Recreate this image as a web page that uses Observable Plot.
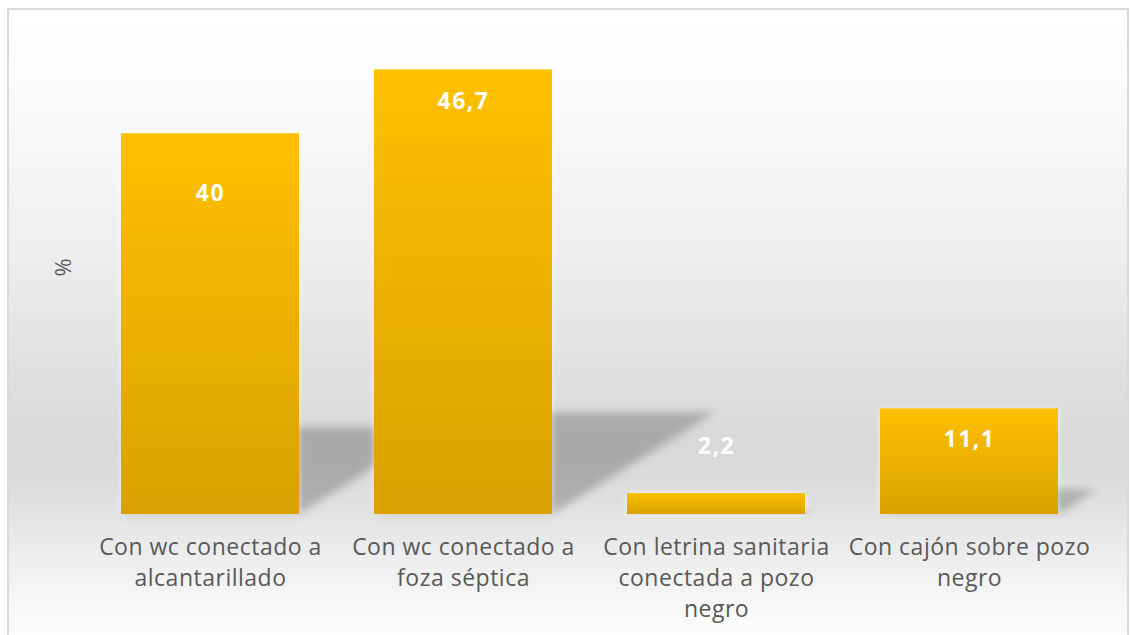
<!DOCTYPE html>
<html>
<head>
<meta charset="utf-8">
<script src="https://cdn.jsdelivr.net/npm/d3@7"></script>
<script src="https://cdn.jsdelivr.net/npm/@observablehq/plot@0.6"></script>
<style>
  html, body { margin: 0; padding: 0; background: #ffffff; }
  #wrap { position: relative; width: 1130px; height: 635px; overflow: hidden; background: #ffffff; }
  #frame {
    position: absolute; left: 7px; top: 8px; width: 1118px; height: 660px;
    border: 2px solid #d9d9d9; border-bottom: none;
    background: linear-gradient(to bottom, #ffffff 0%, #fbfbfb 12%, #efefef 35%, #e2e2e2 52%, #d8d8d8 66%, #dcdcdc 72%, #ececec 82%, #fafafa 92%, #ffffff 100%);
  }
  #chart { position: absolute; left: 0; top: 0; }
  .catlbl text { letter-spacing: 0.5px; }
  .vallbl text { letter-spacing: 1.5px; }
</style>
</head>
<body>
<svg width="0" height="0" style="position:absolute">
  <defs>
    <linearGradient id="barGrad" x1="0" y1="0" x2="0" y2="1">
      <stop offset="0%" stop-color="#ffc000"/>
      <stop offset="100%" stop-color="#d8a100"/>
    </linearGradient>
    <filter id="shadowBlur" x="-20%" y="-20%" width="140%" height="140%">
      <feGaussianBlur stdDeviation="4"/>
    </filter>
    <filter id="glow" x="-20%" y="-20%" width="140%" height="140%">
      <feGaussianBlur stdDeviation="3"/>
    </filter>
  </defs>
</svg>
<div id="wrap">
  <div id="frame"></div>
  <div id="chart"></div>
</div>
<script>
// ---- data ----
const categories = [
  "Con wc conectado a\nalcantarillado",
  "Con wc conectado a\nfoza séptica",
  "Con letrina sanitaria\nconectada a pozo\nnegro",
  "Con cajón sobre pozo\nnegro"
];
const values = [40, 46.7, 2.2, 11.1];
const valueLabels = ["40", "46,7", "2,2", "11,1"];
const yAxisLabel = "%";

const data = categories.map((c, i) => ({cat: c, value: values[i], label: valueLabels[i]}));

// label vertical offsets (px, relative to bar top) — styling
const labelDy = [60, 32, -47, 31];

// perspective shadow behind bars, derived from scales
function shadowMark(index, scales, vals, dimensions) {
  const ns = "http://www.w3.org/2000/svg";
  const g = document.createElementNS(ns, "g");
  const xs = scales.x, ys = scales.y;
  let bw = typeof xs.bandwidth === "function" ? xs.bandwidth() : xs.bandwidth;
  if (bw == null && scales.scales && scales.scales.x) bw = scales.scales.x.bandwidth;
  const base = ys(0);
  for (const d of data) {
    const x1 = xs(d.cat), x2 = x1 + bw;
    const top = ys(d.value);
    const h = base - top;
    const sh = 0.229 * h, off = 0.367 * h;
    const p = document.createElementNS(ns, "polygon");
    p.setAttribute("points", `${x1},${base} ${x2},${base} ${x2 + off},${base - sh} ${x1 + off},${base - sh}`);
    p.setAttribute("fill", "#000");
    p.setAttribute("fill-opacity", "0.22");
    p.setAttribute("filter", "url(#shadowBlur)");
    g.appendChild(p);
  }
  return g;
}

const chart = Plot.plot({
  width: 1130,
  height: 635,
  marginLeft: 82,
  marginRight: 33,
  marginTop: 38,
  marginBottom: 121,
  style: {background: "transparent", fontFamily: "'Open Sans', sans-serif", overflow: "visible"},
  x: {domain: categories, paddingInner: 0.295, paddingOuter: 0.1475, axis: null},
  y: {domain: [0, 50], axis: null},
  marks: [
    shadowMark,
    Plot.barY(data, {x: "cat", y: "value", fill: "#ffffff", fillOpacity: 0.6, className: "glowbar"}),
    Plot.barY(data, {x: "cat", y: "value", fill: "url(#barGrad)"}),
    ...data.map((d, i) => Plot.text([d], {
      x: "cat", y: "value", text: "label", dy: labelDy[i],
      fill: "#ffffff", fontSize: 23, fontWeight: "bold", className: "vallbl"
    })),
    Plot.text(data, {
      x: "cat", y: () => 0, text: "cat", lineAnchor: "top", dy: 18, lineHeight: 1.35,
      fill: "#595959", fontSize: 23, className: "catlbl"
    }),
    Plot.text([yAxisLabel], {frameAnchor: "left", dx: -19, rotate: -90, fill: "#595959", fontSize: 22, text: d => d})
  ]
});
document.getElementById("chart").appendChild(chart);
// soften the white halo bars
chart.querySelectorAll(".glowbar rect").forEach(r => r.setAttribute("filter", "url(#glow)"));
</script>
</body>
</html>
